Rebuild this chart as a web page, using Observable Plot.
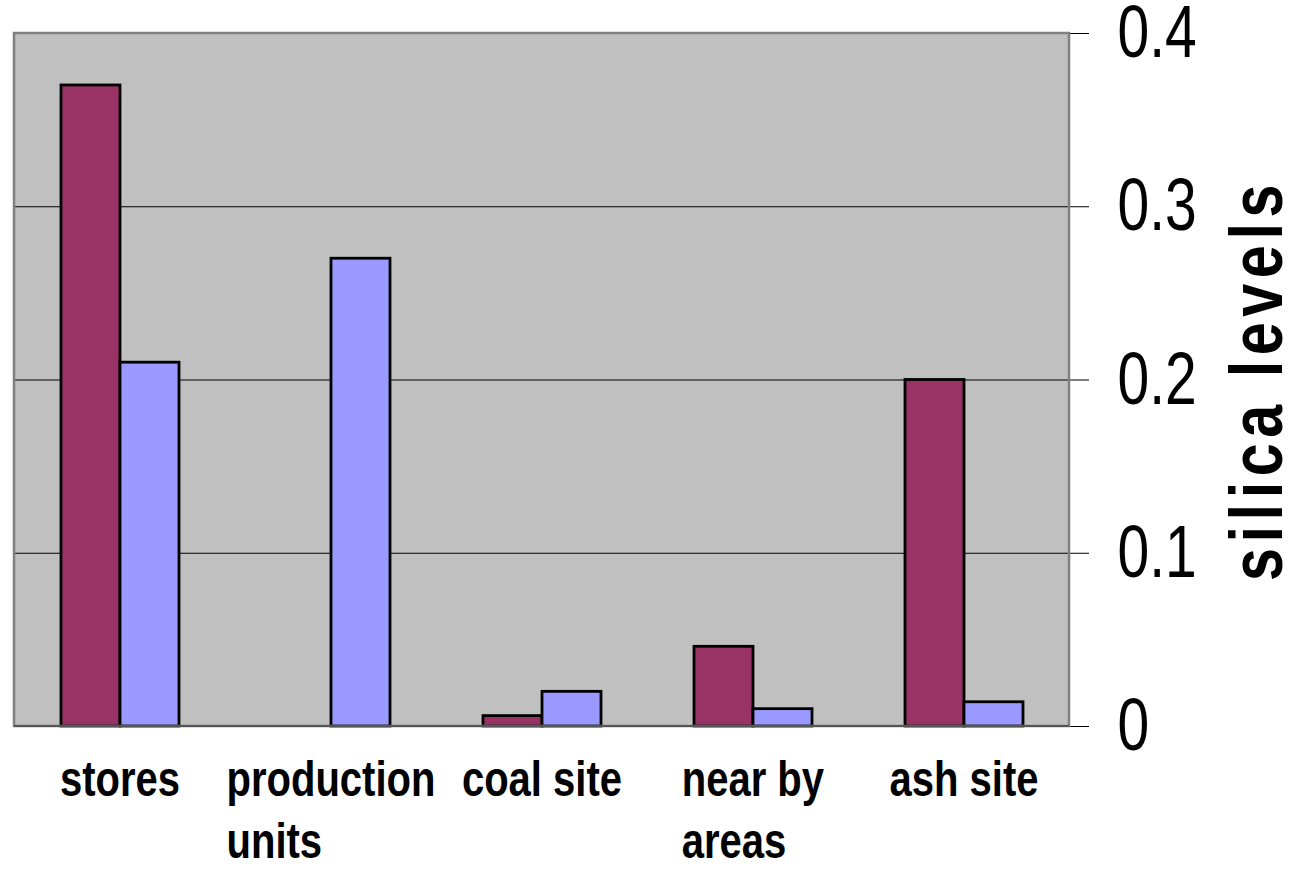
<!DOCTYPE html>
<html><head><meta charset="utf-8">
<script src="https://cdn.jsdelivr.net/npm/d3@7"></script>
<script src="https://cdn.jsdelivr.net/npm/@observablehq/plot@0.6"></script>
<style>
html,body{margin:0;padding:0;background:#fff;}
#chart{width:1299px;height:872px;}
</style></head><body><div id="chart"></div>
<script>
const categories = ["stores", "production units", "coal site", "near by areas", "ash site"];
const categoryLabels = ["stores", "production\nunits", "coal site", "near by\nareas", "ash site"];
const seriesNames = ["series 1", "series 2"];
const series1 = [0.37, 0, 0.006, 0.046, 0.2];
const series2 = [0.21, 0.27, 0.02, 0.01, 0.014];
const yTicks = [0, 0.1, 0.2, 0.3, 0.4];
const yLabel = "silica levels";

const data = categories.flatMap((c, i) => [
  {category: c, series: seriesNames[0], value: series1[i]},
  {category: c, series: seriesNames[1], value: series2[i]}
]);

const W = 1299, H = 872, mL = 14, mR = 230, mT = 33, mB = 146;
const font = "'Liberation Sans', Arial, sans-serif";
const narrowScale = 0.8; // emulate a narrow face

const plot = Plot.plot({
  width: W, height: H,
  marginLeft: mL, marginRight: mR, marginTop: mT, marginBottom: mB,
  style: {background: "white", overflow: "visible", fontFamily: font},
  fx: {domain: categories, padding: 0, axis: null},
  x: {domain: seriesNames, paddingInner: 0, paddingOuter: 0.773, axis: null},
  y: {domain: [0, 0.4], axis: null},
  color: {domain: seriesNames, range: ["#993366", "#9999FF"]},
  marks: [
    Plot.ruleY(yTicks.filter(t => t > 0 && t < 0.4), {stroke: "#000", strokeWidth: 1}),
    Plot.barY(data.filter(d => d.value > 0), {fx: "category", x: "series", y: "value", fill: "series", stroke: "#000", strokeWidth: 2.8}),
    Plot.axisY({anchor: "right", ticks: yTicks, tickSize: 19, tickPadding: 29,
      tickFormat: d => d === 0 ? "0" : String(d), fontSize: 74, fontFamily: font, label: null}),
    Plot.text(categories, {fx: d => d, text: (d, i) => categoryLabels[i], frameAnchor: "bottom",
      lineAnchor: "top", textAnchor: "start", dy: 25, fontSize: 50, fontWeight: "bold",
      fontFamily: font, lineHeight: 1.25, fill: "#000"}),
    Plot.text([yLabel], {fx: () => categories[categories.length - 1], frameAnchor: "right",
      textAnchor: "middle", rotate: -90, dx: 189, fontSize: 74, fontWeight: "bold", fontFamily: font, fill: "#000"})
  ]
});
document.getElementById("chart").appendChild(plot);

const svg = d3.select(plot);
// plot-area background as one rect
svg.insert("rect", ":first-child")
  .attr("x", mL).attr("y", mT)
  .attr("width", W - mL - mR).attr("height", H - mT - mB)
  .attr("fill", "#C0C0C0");
// plot-area border
svg.append("rect")
  .attr("x", mL).attr("y", mT)
  .attr("width", W - mL - mR).attr("height", H - mT - mB)
  .attr("fill", "none").attr("stroke", "#808080").attr("stroke-width", 2.5);
svg.append("line")
  .attr("x1", mL).attr("x2", W - mR).attr("y1", H - mB).attr("y2", H - mB)
  .attr("stroke", "#555").attr("stroke-width", 2);

const flatLabels = categoryLabels.map(s => s.replace("\n", ""));
const tickStrings = yTicks.map(d => d === 0 ? "0" : String(d));
function squeeze(el, s, shift) {
  const tr = el.getAttribute("transform");
  if (tr) {
    el.setAttribute("transform", tr + ` translate(${shift},0) scale(${s},1)`);
  } else {
    const x = +(el.getAttribute("x") || 0);
    el.setAttribute("transform", `translate(${x + shift},0) scale(${s},1) translate(${-x},0)`);
  }
}
svg.selectAll("text").each(function() {
  const t = this.textContent;
  if (flatLabels.includes(t)) {
    const w = this.getBBox().width;
    squeeze(this, narrowScale, -w * narrowScale / 2);
  } else if (t === yLabel) {
    this.setAttribute("letter-spacing", "7px");
    squeeze(this, narrowScale, 0);
  } else if (tickStrings.includes(t)) {
    squeeze(this, 0.77, 0);
  }
});
</script></body></html>
